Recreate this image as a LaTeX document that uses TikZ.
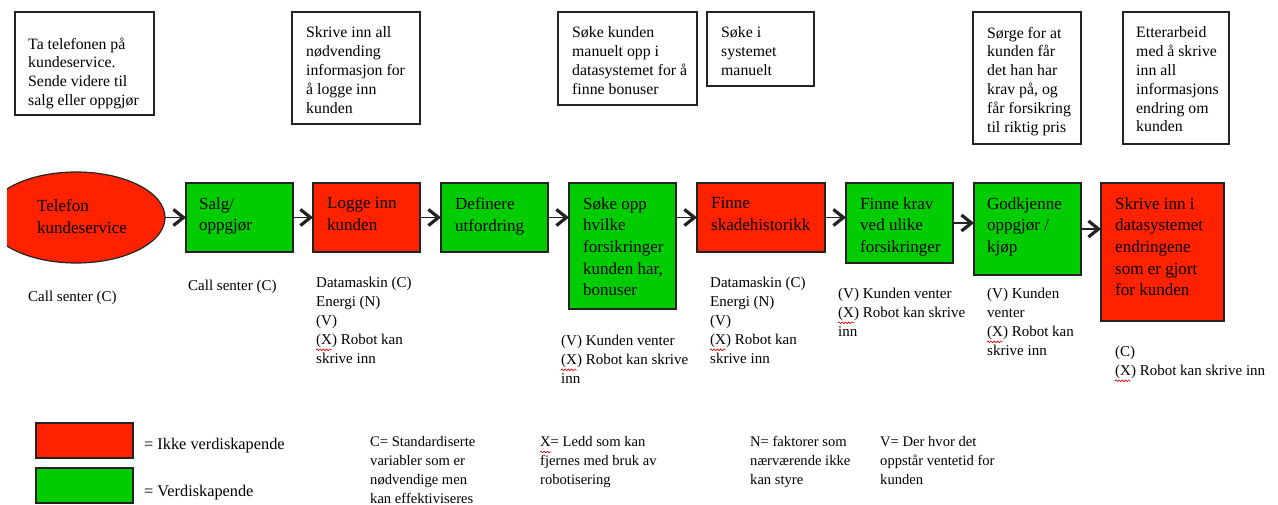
\documentclass[tikz,border=0pt]{standalone}
\usepackage{fontspec}
\setmainfont{Liberation Serif}
\usetikzlibrary{arrows.meta,shapes.geometric,decorations.pathmorphing}

\definecolor{nvred}{RGB}{255,34,0}
\definecolor{vgreen}{RGB}{0,204,0}
\definecolor{edgegray}{RGB}{35,35,35}

\tikzset{
  spellmark/.style={red!85!black, line width=0.6pt, decorate,
    decoration={snake, amplitude=0.9pt, segment length=3.2pt}},
  notebox/.style={draw=edgegray, line width=1.4pt, anchor=north west,
    inner sep=0pt, outer sep=0pt, fill=white},
  stepred/.style={draw=edgegray, line width=1.2pt, fill=nvred, anchor=north west,
    inner sep=0pt, outer sep=0pt},
  stepgreen/.style={draw=edgegray, line width=1.2pt, fill=vgreen, anchor=north west,
    inner sep=0pt, outer sep=0pt},
  notetext/.style={anchor=north west, inner sep=0pt, align=left,
    font=\fontsize{15.8}{18.8}\selectfont, execute at begin node=\strut},
  steptext/.style={anchor=north west, inner sep=0pt, align=left,
    font=\fontsize{17}{21.6}\selectfont, execute at begin node=\strut},
  infotext/.style={anchor=north west, inner sep=0pt, align=left,
    font=\fontsize{15}{19}\selectfont, execute at begin node=\strut},
  keytext/.style={anchor=north west, inner sep=0pt, align=left,
    font=\fontsize{14.6}{18.8}\selectfont, execute at begin node=\strut},
  swatchtext/.style={anchor=base west, inner sep=0pt,
    font=\fontsize{16.3}{19}\selectfont},
  flow/.style={draw=edgegray, line width=1.5pt,
    -{Straight Barb[length=10pt,width=16pt,line width=3.2pt]}}
}

\begin{document}
\begin{tikzpicture}[x=1pt,y=-1pt]
\fill[white] (0,0) rectangle (1278,505);
\useasboundingbox (0,0) rectangle (1278,505);

% ---- notes along the top ----
\node[notebox, minimum width=139, minimum height=103] (n1) at (15,12) {};
\node[notetext] (n1t) at (28,37.5) {Ta telefonen på\\kundeservice.\\Sende videre til\\salg eller oppgjør};
\node[notebox, minimum width=128, minimum height=112] (n2) at (292,12) {};
\node[notetext] (n2t) at (306,26.8) {Skrive inn all\\nødvending\\informasjon for\\å logge inn\\kunden};
\node[notebox, minimum width=139, minimum height=93] (n3) at (558,12) {};
\node[notetext] (n3t) at (572,26.8) {Søke kunden\\manuelt opp i\\datasystemet for å\\finne bonuser};
\node[notebox, minimum width=107, minimum height=74] (n4) at (707,12) {};
\node[notetext] (n4t) at (721,26.8) {Søke i\\systemet\\manuelt};
\node[notebox, minimum width=108, minimum height=132] (n5) at (973,12) {};
\node[notetext] (n5t) at (987,26.8) {Sørge for at\\kunden får\\det han har\\krav på, og\\får forsikring\\til riktig pris};
\node[notebox, minimum width=106, minimum height=132] (n6) at (1123,12) {};
\node[notetext] (n6t) at (1136,26.8) {Etterarbeid\\med å skrive\\inn all\\informasjons\\endring om\\kunden};

% ---- process steps ----
\begin{scope}
  \clip (7,0) rectangle (1278,505);
  \node[ellipse, draw=edgegray, line width=1.2pt, fill=nvred, inner sep=0pt,
        outer sep=0pt, minimum width=177.6, minimum height=91] (tel) at (76.2,217.5) {};
\end{scope}
\node[steptext] (telt) at (37,199.3) {Telefon\\kundeservice};

\node[stepgreen, minimum width=107, minimum height=69] (salg) at (186,183) {};
\node[steptext] (salgt) at (199,197.3) {Salg/\\oppgjør};
\node[stepred, minimum width=107, minimum height=69] (logge) at (313,183) {};
\node[steptext] (logget) at (327,197.3) {Logge inn\\kunden};
\node[stepgreen, minimum width=107, minimum height=69] (def) at (441,183) {};
\node[steptext] (deft) at (455,197.3) {Definere\\utfordring};
\node[stepgreen, minimum width=107, minimum height=126] (soke) at (569,183) {};
\node[steptext] (soket) at (583,197.3) {Søke opp\\hvilke\\forsikringer\\kunden har,\\bonuser};
\node[stepred, minimum width=128, minimum height=69] (skade) at (697,183) {};
\node[steptext] (skadet) at (711,197.3) {Finne\\skadehistorikk};
\node[stepgreen, minimum width=107, minimum height=80] (krav) at (846,183) {};
\node[steptext] (kravt) at (860,197.3) {Finne krav\\ved ulike\\forsikringer};
\node[stepgreen, minimum width=107, minimum height=92] (godkj) at (974,183) {};
\node[steptext] (godkjt) at (987,197.3) {Godkjenne\\oppgjør /\\kjøp};
\node[stepred, minimum width=123, minimum height=138] (skriv) at (1101,183) {};
\node[steptext] (skrivt) at (1115,197.3) {Skrive inn i\\datasystemet\\endringene\\som er gjort\\for kunden};

% ---- connectors ----
\draw[flow] (tel.east) -- (salg.west);
\draw[flow] (salg.east) -- (logge.west);
\draw[flow] (logge.east) -- (def.west);
\draw[flow] (def.east) -- (def.east -| soke.west);
\draw[flow] (skade.west -| soke.east) -- (skade.west);
\draw[flow] (skade.east) -- (skade.east -| krav.west);
\draw[flow] (krav.east) -- (krav.east -| godkj.west);
\draw[flow] (godkj.east) -- (godkj.east -| skriv.west);

% ---- notes below the steps ----
\node[infotext] (telinfo) at (28,288.2) {Call senter (C)};
\node[infotext] (salginfo) at (188,277.2) {Call senter (C)};
\node[infotext] (loggeinfo) at (316,277.2) {Datamaskin (C)\\Energi (N)\\(V)\\(X) Robot kan\\skrive inn};
\node[infotext] (sokeinfo) at (561,335.2) {(V) Kunden venter\\(X) Robot kan skrive\\inn};
\node[infotext] (skadeinfo) at (710,277.2) {Datamaskin (C)\\Energi (N)\\(V)\\(X) Robot kan\\skrive inn};
\node[infotext] (kravinfo) at (838,288.2) {(V) Kunden venter\\(X) Robot kan skrive\\inn};
\node[infotext] (godkjinfo) at (987,288.2) {(V) Kunden\\venter\\(X) Robot kan\\skrive inn};
\node[infotext] (skrivinfo) at (1115,346.2) {(C)\\(X) Robot kan skrive inn};

% spell-check marks under "(X"
\draw[spellmark] ([shift={(0,72.6)}]loggeinfo.north west) -- ++(16,0);
\draw[spellmark] ([shift={(0,34.6)}]sokeinfo.north west) -- ++(16,0);
\draw[spellmark] ([shift={(0,72.6)}]skadeinfo.north west) -- ++(16,0);
\draw[spellmark] ([shift={(0,34.6)}]kravinfo.north west) -- ++(16,0);
\draw[spellmark] ([shift={(0,53.6)}]godkjinfo.north west) -- ++(16,0);
\draw[spellmark] ([shift={(0,34.6)}]skrivinfo.north west) -- ++(16,0);

% ---- legend ----
\node[stepred, minimum width=97, minimum height=35] (keyred) at (36,423) {};
\node[swatchtext] (keyredt) at (144,449.5) {= Ikke verdiskapende};
\node[stepgreen, minimum width=97, minimum height=35] (keygreen) at (36,468) {};
\node[swatchtext] (keygreent) at (144,496.5) {= Verdiskapende};

\node[keytext] (keyc) at (370,436.5) {C= Standardiserte\\variabler som er\\nødvendige men\\kan effektiviseres};
\node[keytext] (keyx) at (540,436.5) {X= Ledd som kan\\fjernes med bruk av\\robotisering};
\node[keytext] (keyn) at (750,436.5) {N= faktorer som\\nærværende ikke\\kan styre};
\node[keytext] (keyv) at (880,436.5) {V= Der hvor det\\oppstår ventetid for\\kunden};
\draw[spellmark] ([shift={(0,15.5)}]keyx.north west) -- ++(11,0);
\end{tikzpicture}
\end{document}
